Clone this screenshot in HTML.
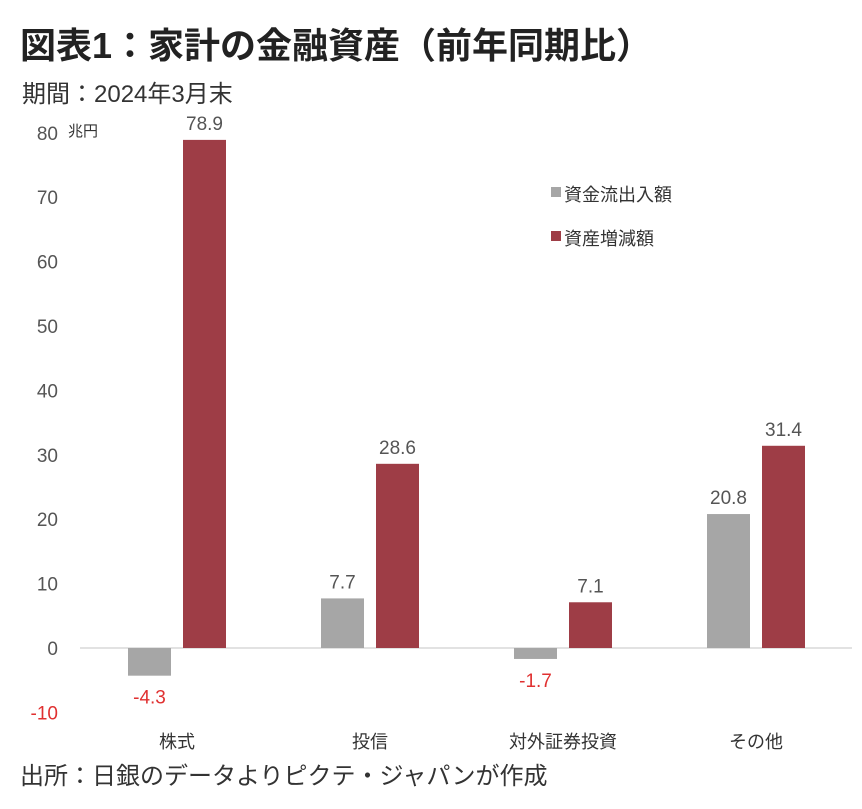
<!DOCTYPE html>
<html><head><meta charset="utf-8"><style>
body{margin:0;background:#fff;width:862px;height:804px;overflow:hidden;font-family:"Liberation Sans","Noto Sans CJK JP",sans-serif;}
svg text{font-family:"Liberation Sans Narrow","Liberation Sans","Noto Sans CJK JP",sans-serif;}
</style></head><body>
<svg width="862" height="804">
<text x="20" y="58" font-size="36" font-weight="bold" fill="#222" style="font-family:'Liberation Sans','Noto Sans CJK JP',sans-serif">図表1：家計の金融資産（前年同期比）</text>
<text x="22" y="102" font-size="24" fill="#333" style="font-family:'Liberation Sans','Noto Sans CJK JP',sans-serif">期間：2024年3月末</text>
<text x="20" y="784" font-size="24" fill="#333" style="font-family:'Liberation Sans','Noto Sans CJK JP',sans-serif">出所：日銀のデータよりピクテ・ジャパンが作成</text>
<text x="68" y="136" font-size="15" fill="#333" style="font-family:'Liberation Sans','Noto Sans CJK JP',sans-serif">兆円</text>
<g id="legend">
<rect x="551" y="187" width="10" height="10" fill="#a6a6a6"/>
<text x="564" y="201" font-size="18" fill="#333">資金流出入額</text>
<rect x="551" y="231" width="10" height="10" fill="#9e3d46"/>
<text x="564" y="245" font-size="18" fill="#333">資産増減額</text>
</g>
<g id="plot"></g>
</svg>
<script>
const categories=["株式","投信","対外証券投資","その他"];
const flowValues=[-4.3,7.7,-1.7,20.8];
const changeValues=[78.9,28.6,7.1,31.4];
const yTicks=[-10,0,10,20,30,40,50,60,70,80];
const NS="http://www.w3.org/2000/svg";
const g=document.getElementById('plot');
const y=v=>648-v*6.44;
const left=80.5,band=193;
const cx=i=>left+band*(i+0.5);
function mk(tag,attrs,txt){const e=document.createElementNS(NS,tag);for(const k in attrs)e.setAttribute(k,attrs[k]);if(txt!==undefined)e.textContent=txt;g.appendChild(e);return e;}
yTicks.forEach(t=>{
 const e=mk('text',{x:58,y:y(t)+7,'font-size':19,'text-anchor':'end',fill:t<0?'#e03030':'#555'},String(t));
 
 
});
const zl=mk('line',{x1:80,x2:852,y1:y(0),y2:y(0),stroke:'#d9d9d9','stroke-width':1.5});


const bw=43,gap=12;
categories.forEach((c,i)=>{
 const xl=mk('text',{x:cx(i),y:748,'font-size':18,'text-anchor':'middle',fill:'#333'},c);
 
 
 [[flowValues[i],'#a6a6a6',-1,'bar-flow'],[changeValues[i],'#9e3d46',1,'bar-change']].forEach(([v,col,s,nm])=>{
  const x0=s<0?cx(i)-gap/2-bw:cx(i)+gap/2;
  const top=Math.min(y(v),y(0)),h=Math.abs(y(v)-y(0));
  const r=mk('rect',{x:x0,y:top,width:bw,height:h,fill:col});
  
  
  const ly=v>=0?y(v)-10:y(v)+28;
  const l=mk('text',{x:x0+bw/2,y:ly,'font-size':19,'text-anchor':'middle',fill:v<0?'#e03030':'#555'},v.toFixed(1));
  
  
 });
});
</script>
</body></html>
